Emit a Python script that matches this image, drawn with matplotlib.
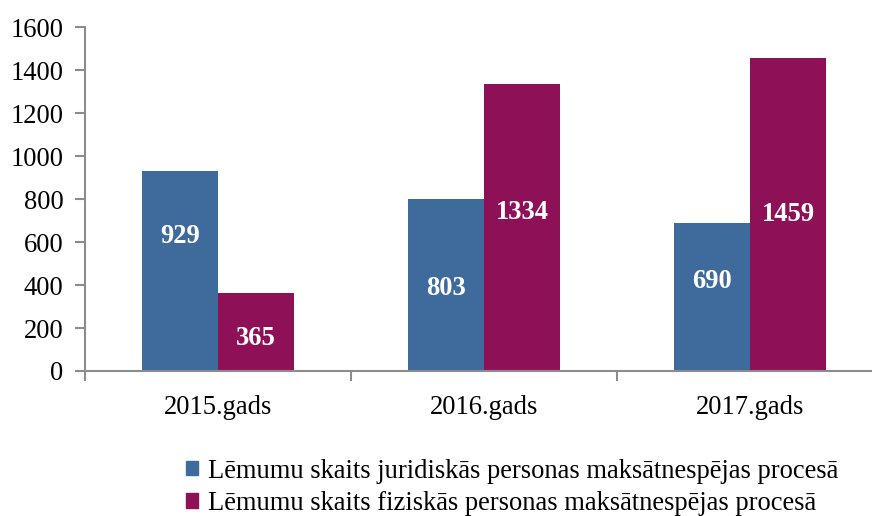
import matplotlib
matplotlib.use("Agg")
import matplotlib.pyplot as plt
import numpy as np
from matplotlib.ticker import FixedLocator, NullFormatter
from matplotlib.patches import Patch

categories = ["2015.gads", "2016.gads", "2017.gads"]
juridiskas = [929, 803, 690]
fiziskas = [365, 1334, 1459]
series_names = ["Lēmumu skaits juridiskās personas maksātnespējas procesā",
                "Lēmumu skaits fiziskās personas maksātnespējas procesā"]
yticks = [0, 200, 400, 600, 800, 1000, 1200, 1400, 1600]
# vertical positions (data units) of the value labels, as placed in the original
label_y_jur = [625, 385, 415]
label_y_fiz = [150, 740, 730]

blue = "#3E6A9C"
purple = "#8E1158"

plt.rcParams['font.family'] = ['Liberation Serif', 'DejaVu Serif']
FS = 19.1

fig = plt.figure(figsize=(8.72, 5.16), dpi=100)
W, H = 872, 516
ax = fig.add_axes([85 / W, 1 - 371 / H, 798 / W, (371 - 27.3) / H])

x = np.arange(len(categories))
w = 0.286
ax.bar(x - w / 2, juridiskas, w, color=blue)
ax.bar(x + w / 2, fiziskas, w, color=purple)

for xi, v, ly in zip(x, juridiskas, label_y_jur):
    ax.text(xi - w / 2, ly, str(v), ha='center', va='center', color='white',
            fontsize=FS, fontweight='bold')
for xi, v, ly in zip(x, fiziskas, label_y_fiz):
    ax.text(xi + w / 2, ly, str(v), ha='center', va='center', color='white',
            fontsize=FS, fontweight='bold')

ax.set_xlim(-0.5, len(categories) - 0.5)
ax.set_ylim(0, 1600)
ax.set_yticks(yticks)
ax.set_yticklabels([str(t) for t in yticks])
ax.set_xticks(x)
ax.set_xticklabels(categories)
ax.tick_params(axis='x', length=0, pad=17, labelsize=FS)
ax.xaxis.set_minor_locator(FixedLocator([-0.5, 0.5, 1.5, 2.5]))
ax.xaxis.set_minor_formatter(NullFormatter())
ax.tick_params(axis='x', which='minor', length=7, width=1.5, color='#8c8c8c')
ax.tick_params(axis='y', length=7, width=1.5, color='#8c8c8c', labelsize=FS, pad=8.5)

for s in ['top', 'right']:
    ax.spines[s].set_visible(False)
for s in ['left', 'bottom']:
    ax.spines[s].set_color('#8c8c8c')
    ax.spines[s].set_linewidth(1.5)

handles = [Patch(color=blue), Patch(color=purple)]
fig.legend(handles, series_names, loc='upper left', bbox_to_anchor=(175 / W, 1 - 448 / H),
           frameon=False, fontsize=FS, handlelength=0.45, handleheight=0.45,
           handletextpad=0.38, labelspacing=0.28, borderaxespad=0)

fig.savefig("out.png", dpi=100)
